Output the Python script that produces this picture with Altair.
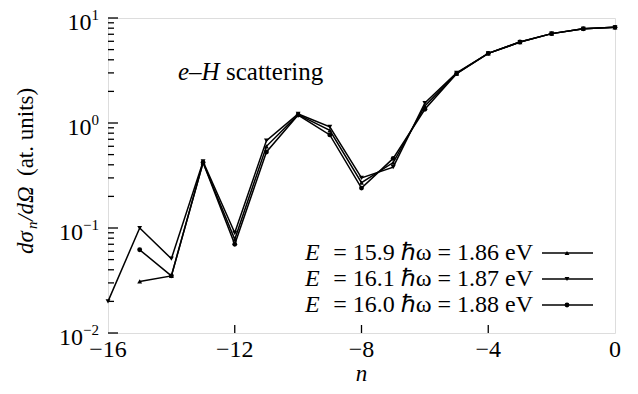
import altair as alt
import pandas as pd

# ---------------- data ----------------
n_vals = list(range(-16, 1))
labels = ["E = 15.9 ℏω = 1.86 eV", "E = 16.1 ℏω = 1.87 eV", "E = 16.0 ℏω = 1.88 eV"]
shapes = ["triangle-up", "triangle-down", "circle"]
s159 = [None, 0.031, 0.035, 0.42, 0.078, 0.60, 1.20, 0.85, 0.27, 0.42, 1.45, 2.95, 4.6, 5.9, 7.1, 7.9, 8.15]
s161 = [0.020, 0.10, 0.051, 0.43, 0.090, 0.68, 1.22, 0.92, 0.30, 0.38, 1.55, 3.0, 4.6, 5.9, 7.1, 7.9, 8.15]
s160 = [None, 0.062, 0.035, 0.42, 0.070, 0.53, 1.19, 0.77, 0.24, 0.46, 1.35, 2.95, 4.6, 5.9, 7.1, 7.9, 8.15]
x_ticks = [-16, -12, -8, -4, 0]
x_tick_labels = ["−16", "−12", "−8", "−4", "0"]
y_major = [0.01, 0.1, 1, 10]
y_exps = ["−2", "−1", "0", "1"]

rows = []
for lab, ser in zip(labels, [s159, s161, s160]):
    for n, v in zip(n_vals, ser):
        if v is not None:
            rows.append({"n": n, "v": v, "series": lab})
df = pd.DataFrame(rows)

FONT = "Liberation Serif, Times New Roman, serif"
W, H = 507, 315

x_scale = alt.Scale(domain=[-16, 0], nice=False, zero=False)
y_scale = alt.Scale(type="log", domain=[0.01, 10], nice=False)

X = alt.X("n:Q", scale=x_scale, axis=None)
Y = alt.Y("v:Q", scale=y_scale, axis=None)


def txt(t, x, y, size=23, italic=False, align="left", baseline="middle", angle=None):
    kw = dict(align=align, baseline=baseline, font=FONT, fontSize=size, color="black")
    if italic:
        kw["fontStyle"] = "italic"
    if angle is not None:
        kw["angle"] = angle
    return alt.Chart(pd.DataFrame({"t": [t]})).mark_text(**kw).encode(
        x=alt.value(x), y=alt.value(y), text="t:N")


lines = alt.Chart(df).mark_line(color="black", strokeWidth=1.5, clip=False).encode(
    x=X, y=Y, detail="series:N")

points = alt.Chart(df).mark_point(filled=True, color="black", size=24, opacity=1).encode(
    x=X, y=Y,
    shape=alt.Shape("series:N", scale=alt.Scale(domain=labels, range=shapes), legend=None))

# inward ticks
minor = [k * 10.0 ** e for e in (-2, -1, 0) for k in range(2, 10)]
ymaj_ticks = alt.Chart(pd.DataFrame({"v": y_major})).mark_rule(color="black", strokeWidth=1.3).encode(
    y=Y, x=alt.value(0), x2=alt.value(10))
ymin_ticks = alt.Chart(pd.DataFrame({"v": minor})).mark_rule(color="black", strokeWidth=1.3).encode(
    y=Y, x=alt.value(0), x2=alt.value(6))
x_tick_marks = alt.Chart(pd.DataFrame({"n": x_ticks[1:-1]})).mark_rule(
    color="black", strokeWidth=1.3).encode(x=X, y=alt.value(H), y2=alt.value(H - 8))

# x tick labels and title
xlab = alt.Chart(pd.DataFrame({"n": x_ticks, "t": x_tick_labels})).mark_text(
    align="center", baseline="middle", font=FONT, fontSize=24, color="black").encode(
    x=X, y=alt.value(H + 17), text="t:N")
xtitle = txt("n", W / 2, H + 41, size=23, italic=True, align="center")

# y tick labels: "10" with superscript exponent
lab_df = pd.DataFrame({"v": y_major, "exp": y_exps, "mant": ["10"] * 4})
lab_df["mx"] = [-(9 + 7.5 + (8.5 if e.startswith("−") else 0)) for e in y_exps]
mant = alt.Chart(lab_df).mark_text(align="right", baseline="middle", font=FONT,
                                   fontSize=24, color="black", dy=5).encode(
    y=Y, x=alt.X("mx:Q", scale=None), text="mant:N")
expo = alt.Chart(lab_df).mark_text(align="left", baseline="middle", font=FONT,
                                   fontSize=15, color="black", dy=-3).encode(
    y=Y, x=alt.X("mx:Q", scale=None), text="exp:N")

# y title (rotated, pieces so that n is a subscript)
yt_x = -82
y0 = 236
yt = [
    txt("dσ", yt_x, y0, italic=True, angle=270),
    txt("n", yt_x + 6, y0 - 25, size=15, italic=True, angle=270),
    txt("/dΩ", yt_x, y0 - 33, italic=True, angle=270),
    txt("(at. units)", yt_x, y0 - 78, angle=270),
]

# annotation
ann = [
    txt("e–H", 70, 62, size=25, italic=True, baseline="alphabetic"),
    txt("scattering", 118, 62, size=25, baseline="alphabetic"),
]

# custom legend
leg_layers = []
for i, (lab, shp) in enumerate(zip(labels, shapes)):
    ly = 235 + i * 26
    rest = lab[1:].strip()
    leg_layers.append(txt("E", 197, ly, size=24, italic=True))
    leg_layers.append(txt(rest, 425, ly, size=24, align="right"))
    leg_layers.append(alt.Chart(pd.DataFrame({"t": [lab]})).mark_rule(
        color="black", strokeWidth=1.4).encode(x=alt.value(434), x2=alt.value(485), y=alt.value(ly)))
    leg_layers.append(alt.Chart(pd.DataFrame({"t": [lab]})).mark_point(
        filled=True, color="black", size=24, shape=shp, opacity=1).encode(
        x=alt.value(459), y=alt.value(ly)))

chart = alt.layer(lines, points, ymaj_ticks, ymin_ticks, x_tick_marks, xlab, xtitle,
                  mant, expo, *yt, *ann, *leg_layers).properties(
    width=W, height=H,
    autosize=alt.AutoSizeParams(type="none"),
    padding={"left": 100, "top": 10, "right": 15, "bottom": 53},
).configure_view(stroke="black", strokeWidth=1.5).configure(background="white")

chart.save("out.html", embed_options={"renderer": "svg", "actions": False})
